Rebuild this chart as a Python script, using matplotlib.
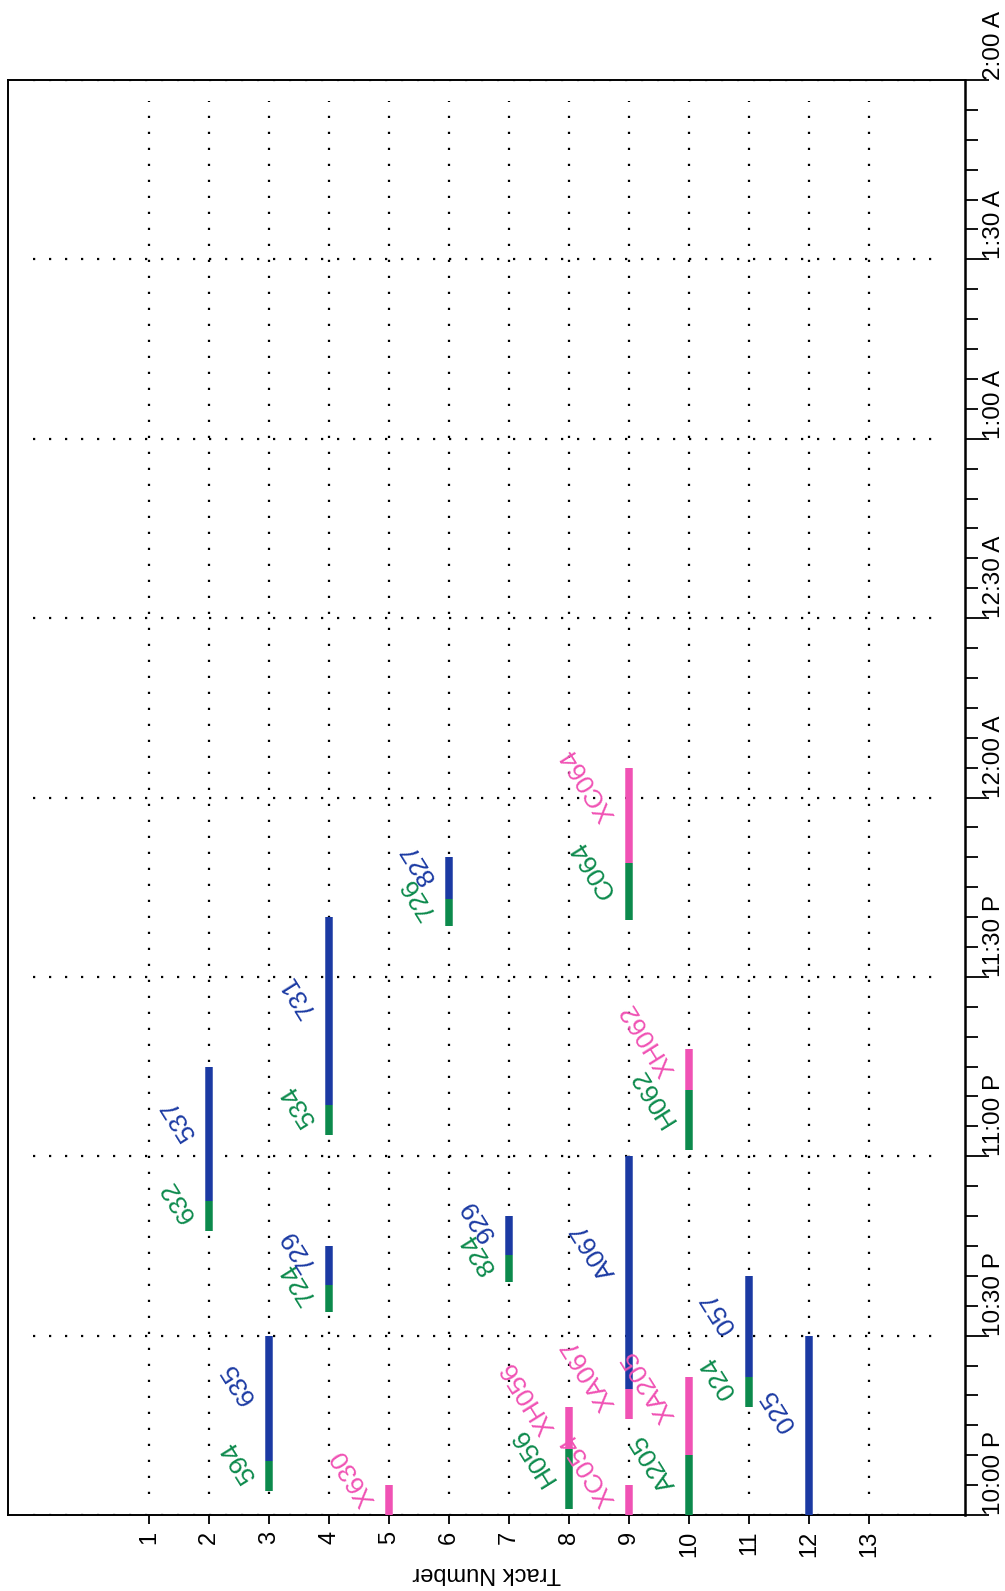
import matplotlib
matplotlib.use('Agg')
import matplotlib.pyplot as plt
import numpy as np

# time is in minutes after 10:00 P
seg_track = [2, 2, 3, 3, 4, 4, 4, 4, 5, 6, 6, 7, 7, 8, 8,
             9, 9, 9, 9, 9, 10, 10, 10, 10, 11, 11, 12]
seg_start = [47.5, 52.5, 4, 9, 34, 38.5, 63.5, 68.5, 0, 98.5, 103, 39, 43.5, 1, 11,
             0, 16, 21, 99.5, 109, 0, 10, 61, 71, 18, 23, 0]
seg_end = [52.5, 75, 9, 30, 38.5, 45, 68.5, 100, 5, 103, 110, 43.5, 50, 11, 18,
           5, 21, 60, 109, 125, 10, 23, 71, 78, 23, 40, 30]
seg_kind = ['g', 'b', 'g', 'b', 'g', 'b', 'g', 'b', 'p', 'g', 'b', 'g', 'b', 'g', 'p',
            'p', 'p', 'b', 'g', 'p', 'g', 'p', 'g', 'p', 'g', 'b', 'b']
seg_label = ['632', '537', '594', '635', '724', '729', '534', '731', 'X630', '726', '827',
             '824', '929', 'H056', 'XH056', 'XC054', 'XA067', 'A067', 'C064', 'XC064',
             'A205', 'XA205', 'H062', 'XH062', '024', '057', '025']

track_ticks = list(range(1, 14))
time_ticks = [0, 30, 60, 90, 120, 150, 180, 210, 240]
time_labels = ['10:00 P', '10:30 P', '11:00 P', '11:30 P', '12:00 A',
               '12:30 A', '1:00 A', '1:30 A', '2:00 A']

kind_color = {'g': '#0c8a4c', 'b': '#1b3aa3', 'p': '#f052b4'}

plt.rcParams['font.family'] = ['Liberation Sans', 'DejaVu Sans']

fig = plt.figure(figsize=(10.05, 15.91), dpi=100)
ax = fig.add_axes([8 / 1005, 76 / 1591, 957 / 1005, 1435 / 1591])
ax.set_xlim(-1.35, 14.6)
ax.set_ylim(0, 240)

# dotted grid
dots = (0, (1, 6.2))
ax.hlines(time_ticks, -0.93, 14.18, colors='k', linewidth=1.6,
          linestyles=dots, capstyle='butt', zorder=1)
ax.vlines(track_ticks, 3.5, 236.5, colors='k', linewidth=1.6,
          linestyles=dots, capstyle='butt', zorder=1)

# track segments
for k in ['g', 'b', 'p']:
    idx = [i for i in range(len(seg_kind)) if seg_kind[i] == k]
    ax.vlines([seg_track[i] for i in idx], [seg_start[i] for i in idx],
              [seg_end[i] for i in idx], colors=kind_color[k], linewidth=5.4,
              capstyle='butt', zorder=3)

for i in range(len(seg_label)):
    mid = (seg_start[i] + seg_end[i]) / 2
    ax.text(seg_track[i] - 0.22, mid, seg_label[i], rotation=122,
            rotation_mode='anchor', ha='left', va='baseline',
            color=kind_color[seg_kind[i]], fontsize=19, zorder=4)

# axes
for s in ax.spines.values():
    s.set_linewidth(1.4)
ax.spines['right'].set_linewidth(1.8)

ax.set_xticks(track_ticks)
ax.set_xticklabels([str(t) for t in track_ticks], rotation=90, va='top')
ax.tick_params(axis='x', direction='out', length=6.5, width=1.3, pad=5, labelsize=17)

ax.yaxis.tick_right()
ax.set_yticks(time_ticks)
ax.set_yticklabels(time_labels, rotation=90, va='bottom', ha='left')
ax.set_yticks(np.arange(0, 241, 5), minor=True)
ax.tick_params(axis='y', which='major', direction='out', length=17, width=1.3,
               pad=-4, labelsize=17.5)
ax.tick_params(axis='y', which='minor', direction='out', length=9, width=1.3)

fig.text(487 / 1005, 1 - 1573 / 1591, 'Track Number', rotation=180,
         ha='center', va='center', fontsize=17)

fig.savefig('out.png', dpi=100)
